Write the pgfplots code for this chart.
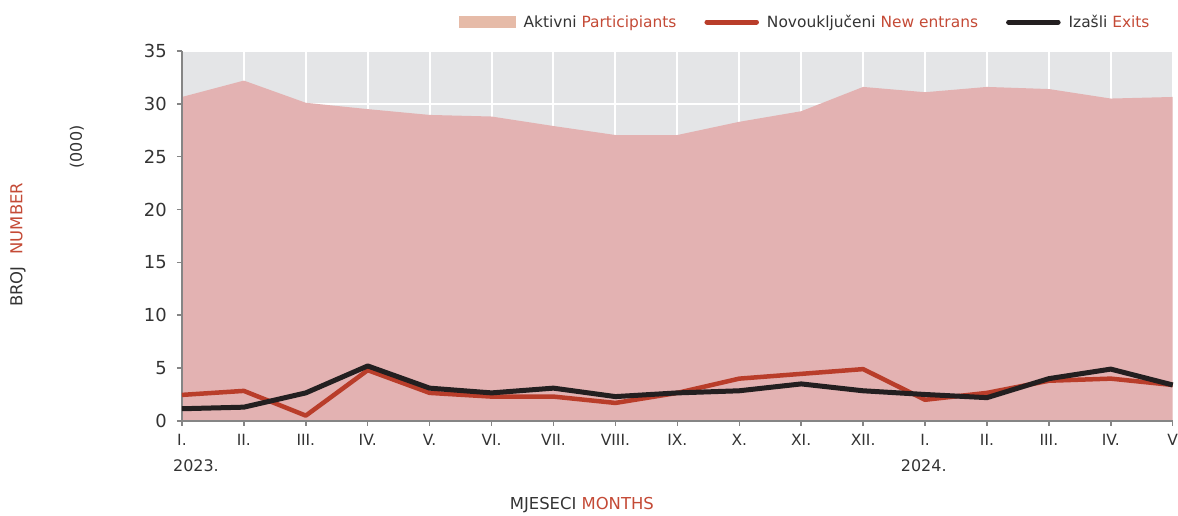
\documentclass[border=0pt]{standalone}
\usepackage{pgfplots}
\pgfplotsset{compat=1.18}
\usepackage{fontspec}
\setmainfont{DejaVu Sans}
\definecolor{bggray}{HTML}{E4E5E7}
\definecolor{areacol}{HTML}{E3B2B2}
\definecolor{legpeach}{HTML}{E6BBA8}
\definecolor{redline}{HTML}{B93D2A}
\definecolor{redtext}{HTML}{C44A36}
\definecolor{darktext}{HTML}{333333}
\definecolor{blackline}{HTML}{231F20}
\definecolor{axgray}{HTML}{858585}
\begin{document}
\begin{tikzpicture}
\begin{axis}[
  name=ax,
  scale only axis,
  width=991bp, height=370bp,
  xmin=0, xmax=16, ymin=0, ymax=35,
  xtick={0,...,16},
  xticklabels={I.,II.,III.,IV.,V.,VI.,VII.,VIII.,IX.,X.,XI.,XII.,I.,II.,III.,IV.,V},
  ytick={0,5,...,35},
  axis x line*=bottom, axis y line*=left,
  axis line style={axgray, line width=2.2bp},
  tick align=outside,
  major tick length=5bp,
  tick style={axgray, line width=1.5bp},
  xmajorgrids, ymajorgrids,
  grid style={white, line width=2bp},
  axis background/.style={fill=bggray},
  /pgf/number format/assume math mode=true,
  yticklabel style={font=\fontsize{18}{20}\selectfont, text=darktext, inner sep=0pt, xshift=-10bp},
  xticklabel style={font=\fontsize{15.5}{18}\selectfont, text=darktext, inner sep=0pt, yshift=-8.5bp},
  legend columns=3,
  legend style={draw=none, fill=none, at={(rel axis cs:0.9788,1.103)}, anchor=north east,
    font=\fontsize{15.5}{18}\selectfont, text=darktext, inner sep=0pt,
    /tikz/every odd column/.append style={column sep=6bp},
    /tikz/every even column/.append style={column sep=26bp}},
  legend cell align=left,
  clip=false,
]
\addplot[fill=areacol, draw=none,
  legend image code/.code={\fill[legpeach] (0bp,-6bp) rectangle (57bp,6bp);}]
  coordinates {(0,30.65) (1,32.2) (2,30.1) (3,29.5) (4,28.95) (5,28.8) (6,27.9) (7,27.05) (8,27.05) (9,28.3) (10,29.3) (11,31.6) (12,31.1) (13,31.6) (14,31.4) (15,30.5) (16,30.65)} \closedcycle;
\addlegendentry{Aktivni \textcolor{redtext}{Participiants}}
\addplot[axgray, line width=2.2bp, forget plot] coordinates {(0,35) (0,0) (16,0)};
\addplot[redline, line width=4.5bp, line join=round,
  legend image code/.code={\draw[redline, line width=5bp, line cap=round] (2.5bp,0bp) -- (52bp,0bp);}]
  coordinates {(0,2.46) (1,2.84) (2,0.5) (3,4.8) (4,2.65) (5,2.3) (6,2.3) (7,1.7) (8,2.65) (9,4.0) (10,4.45) (11,4.9) (12,2.0) (13,2.65) (14,3.8) (15,4.0) (16,3.4)};
\addlegendentry{Novouključeni \textcolor{redtext}{New entrans}}
\addplot[blackline, line width=5bp, line join=round,
  legend image code/.code={\draw[blackline, line width=5bp, line cap=round] (2.5bp,0bp) -- (52bp,0bp);}]
  coordinates {(0,1.15) (1,1.3) (2,2.65) (3,5.2) (4,3.1) (5,2.65) (6,3.1) (7,2.3) (8,2.65) (9,2.85) (10,3.5) (11,2.85) (12,2.5) (13,2.2) (14,4.0) (15,4.9) (16,3.4)};
\addlegendentry{Izašli \textcolor{redtext}{Exits}}
\end{axis}
\node[font=\fontsize{16.5}{18}\selectfont, text=darktext, rotate=90] at ([xshift=-164bp,yshift=176bp]ax.south west) {BROJ\hspace{12bp}\textcolor{redtext}{NUMBER}};
\node[font=\fontsize{16}{18}\selectfont, text=darktext, rotate=90] at ([xshift=-105bp,yshift=274bp]ax.south west) {(000)};
\node[font=\fontsize{16.5}{18}\selectfont, text=darktext] at ([xshift=400bp,yshift=-84bp]ax.south west) {MJESECI \textcolor{redtext}{MONTHS}};
\node[font=\fontsize{16}{18}\selectfont, text=darktext] at ([xshift=14bp,yshift=-45bp]ax.south west) {2023.};
\node[font=\fontsize{16}{18}\selectfont, text=darktext] at ([xshift=742bp,yshift=-45bp]ax.south west) {2024.};
\path ([xshift=-182bp,yshift=-90bp]ax.south west) rectangle ([xshift=996bp,yshift=421bp]ax.south west);
\end{tikzpicture}
\end{document}
